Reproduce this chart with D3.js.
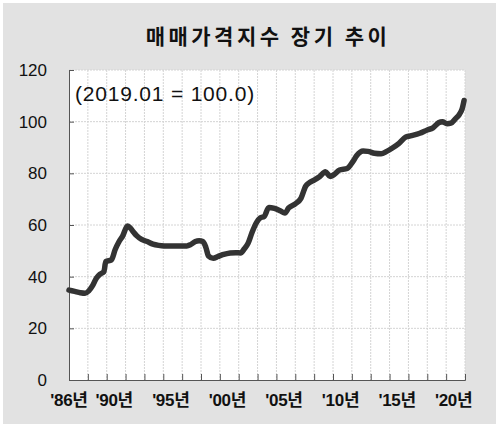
<!DOCTYPE html>
<html>
<head>
<meta charset="utf-8">
<script src="https://cdn.jsdelivr.net/npm/d3@7"></script>
<style>
  body { margin: 0; background: #fff; }
  text { font-family: "Liberation Sans", Arial, "Noto Sans CJK KR", sans-serif; }
</style>
</head>
<body>
<div id="chart"></div>
<script>
// monthly index readings (2019.01 = 100)
const dates = ["1986.01","1986.07","1987.01","1987.06","1987.10","1988.02","1988.06","1988.10","1989.02","1989.04",
  "1989.10","1990.02","1990.06","1990.10","1991.03","1991.06","1991.10","1992.01","1992.06","1992.12",
  "1993.06","1993.12","1994.06","1995.06","1996.06","1996.10","1997.03","1997.07","1997.11","1998.02",
  "1998.05","1998.10","1999.03","1999.08","2000.04","2000.10","2001.03","2001.07","2001.11","2002.03",
  "2002.08","2002.12","2003.04","2003.09","2004.03","2004.09","2005.02","2005.06","2006.01","2006.07",
  "2006.12","2007.04","2007.09","2008.03","2008.09","2009.02","2009.06","2009.12","2010.08","2011.02",
  "2011.06","2012.01","2012.06","2013.01","2013.08","2014.02","2014.08","2015.03","2015.10","2016.03",
  "2017.01","2017.09","2018.03","2018.09","2019.01","2019.06","2019.10","2020.03","2020.07","2020.10",
  "2020.12"];
const values = [34.8,34.3,33.8,33.6,34.5,36.5,39.4,41.0,41.9,45.8,
  46.5,50.5,53.5,55.8,59.6,58.8,57.0,55.8,54.4,53.6,
  52.6,52.1,51.9,51.9,51.9,52.4,53.6,53.9,53.6,51.5,
  48.0,47.1,47.8,48.5,49.2,49.3,49.2,50.8,53.0,57.0,
  61.0,62.8,63.3,66.8,66.4,65.5,64.6,66.6,68.2,70.3,
  75.0,76.4,77.4,78.8,80.6,78.8,79.5,81.3,81.9,84.5,
  86.8,88.6,88.5,87.8,87.6,88.5,89.8,91.6,94.0,94.5,
  95.5,96.8,97.6,99.6,100.0,99.2,99.4,101.2,102.8,105.0,
  108.2];

const yTicks = [0, 20, 40, 60, 80, 100, 120];
const xLabelYears = [1986, 1990, 1995, 2000, 2005, 2010, 2015, 2020];
const xLabels = ["'86년", "'90년", "'95년", "'00년", "'05년", "'10년", "'15년", "'20년"];
const tickMonths = 20;   // tick mark interval on the time axis

const title = "매매가격지수 장기 추이";
const note = "(2019.01 = 100.0)";

const width = 496, height = 427;
const margin = {top: 70, right: 31, bottom: 47, left: 69};
const plotW = width - margin.left - margin.right;
const plotH = height - margin.top - margin.bottom;

const toYear = s => +s.slice(0, 4) + (+s.slice(5) - 1) / 12;
const data = dates.map((d, i) => ({t: toYear(d), v: values[i]}));

const svg = d3.select("#chart").append("svg")
  .attr("width", width)
  .attr("height", height);

// grey card background
svg.append("rect")
  .attr("x", 3).attr("y", 3)
  .attr("width", width - 3).attr("height", height - 6)
  .attr("fill", "#e2e2e2");

svg.append("text")
  .attr("x", 268).attr("y", 44)
  .attr("text-anchor", "middle")
  .style("font-family", "'Noto Sans CJK KR', sans-serif")
  .style("font-size", "21px")
  .style("font-weight", "bold")
  .style("letter-spacing", "3.5px")
  .attr("fill", "#111")
  .text(title);

const g = svg.append("g")
  .attr("transform", `translate(${margin.left}, ${margin.top})`);

let x = d3.scaleLinear().domain([1986, 2021]).range([0, plotW]);
let y = d3.scaleLinear().domain([0, 120]).range([plotH, 0]);

g.append("rect")
  .attr("width", plotW).attr("height", plotH)
  .attr("fill", "#fff");

const xTicks = d3.range(0, 35 * 12 / tickMonths + 1).map(i => 1986 + i * tickMonths / 12);

// gridlines
g.append("g").selectAll("line")
  .data(yTicks.slice(1))
  .enter().append("line")
  .attr("x1", 0).attr("x2", plotW)
  .attr("y1", d => y(d)).attr("y2", d => y(d))
  .attr("stroke", "#d4d4d4")
  .attr("stroke-dasharray", "2,1");

g.append("g").selectAll("line")
  .data(xTicks.slice(1))
  .enter().append("line")
  .attr("x1", d => x(d)).attr("x2", d => x(d))
  .attr("y1", 0).attr("y2", plotH)
  .attr("stroke", "#d4d4d4")
  .attr("stroke-dasharray", "2,1");

// axes
let yAxis = g.append("g")
  .call(d3.axisLeft(y).tickValues(yTicks).tickSize(-5).tickPadding(22));
yAxis.select(".domain").attr("stroke", "#555");
yAxis.selectAll(".tick line").attr("stroke", "#555");
yAxis.selectAll("text")
  .style("font-size", "17px")
  .style("font-family", "'Liberation Sans', Arial, sans-serif")
  .attr("fill", "#111");

let xAxis = g.append("g")
  .attr("transform", `translate(0, ${plotH})`)
  .call(d3.axisBottom(x).tickValues(xTicks).tickSize(-6).tickFormat(""));
xAxis.select(".domain").attr("stroke", "#555");
xAxis.selectAll(".tick line").attr("stroke", "#555");

g.append("g").selectAll("text")
  .data(xLabelYears)
  .enter().append("text")
  .attr("x", d => x(d))
  .attr("y", plotH + 26)
  .attr("text-anchor", "middle")
  .style("font-size", "17px")
  .style("font-weight", "bold")
  .style("letter-spacing", "-0.3px")
  .attr("fill", "#111")
  .text((d, i) => xLabels[i]);

g.append("text")
  .attr("x", 6).attr("y", 31)
  .style("font-size", "21px")
  .style("letter-spacing", "0.8px")
  .attr("fill", "#111")
  .text(note);

// index line
const line = d3.line()
  .x(d => x(d.t))
  .y(d => y(d.v))
  .curve(d3.curveMonotoneX);

g.append("path")
  .datum(data)
  .attr("fill", "none")
  .attr("stroke", "#333")
  .attr("stroke-width", 5.5)
  .attr("stroke-linejoin", "round")
  .attr("stroke-linecap", "round")
  .attr("d", line);
</script>
</body>
</html>
